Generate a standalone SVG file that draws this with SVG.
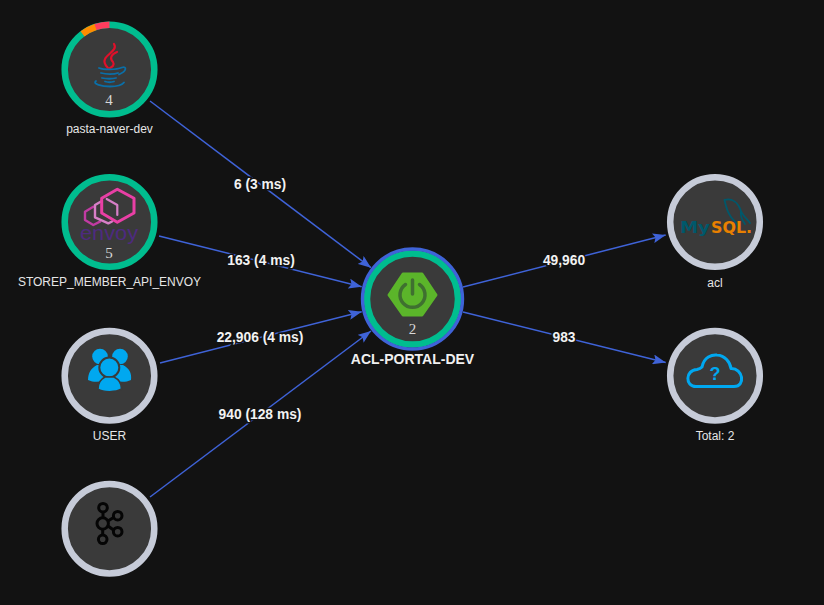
<svg xmlns="http://www.w3.org/2000/svg" width="824" height="605" viewBox="0 0 824 605">
<defs>
<style>
.t{font-family:"Liberation Sans",Arial,sans-serif;text-anchor:middle}
.name{font-size:12px;fill:#e6e6e6}
.el{font-size:13.800px;font-weight:bold;fill:#f2f2f2;stroke:#121212;stroke-width:3px;paint-order:stroke}
.num{font-family:"Liberation Serif",serif;font-size:15px;fill:#d8d8d8;text-anchor:middle}
.disc{fill:#3a3a3a}
.ring{fill:none;stroke-width:6.500}
.g{stroke:#00bd8f}
.s{stroke:#c6cbd8}
.e{fill:none;stroke:#3f63d8;stroke-width:1.500;marker-end:url(#a)}
.i{fill:none;stroke-linecap:round;stroke-linejoin:round}
</style>
<marker id="a" markerUnits="userSpaceOnUse" markerWidth="14" markerHeight="10" refX="13" refY="5" orient="auto">
<path d="M0 0L13 5L0 10L2.500 5Z" fill="#3f63d8"/>
</marker>
</defs>
<rect width="824" height="605" fill="#121212"/>
<g id="connectors">
<path class="e" d="M150 101L371 267.700"/>
<path class="e" d="M159 236L361.700 286.700"/>
<path class="e" d="M160 363L361.700 311.700"/>
<path class="e" d="M150 497L371 331"/>
<path class="e" d="M463 287L665.700 235"/>
<path class="e" d="M463 312L665.700 362.500"/>
</g>
<g id="edge-labels">
<text class="t el" x="260" y="189">6 (3 ms)</text>
<text class="t el" x="261" y="265">163 (4 ms)</text>
<text class="t el" x="260" y="342">22,906 (4 ms)</text>
<text class="t el" x="260" y="419">940 (128 ms)</text>
<text class="t el" x="564" y="265">49,960</text>
<text class="t el" x="564" y="342">983</text>
</g>
<g id="node-pasta">
<circle class="disc" cx="109.500" cy="69.500" r="44"/>
<circle class="ring g" cx="109.500" cy="69.500" r="44.800"/>
<path class="ring" stroke="#ff8c00" d="M82.500 33.800A44.800 44.800 0 0 1 96 26.800"/>
<path class="ring" stroke="#ff3d5e" d="M95.500 27A44.800 44.800 0 0 1 109.500 24.700"/>
<path class="i" stroke="#e0102a" stroke-width="2.200" d="M114 44C118 50 107 54 105 59C103 63 106 66 108 68M117 52C110 55 110 59 113 62C115 65 112 67 110 68"/>
<path class="i" stroke="#0a6fa8" stroke-width="1.800" d="M99 68C104 70 116 70 122 67.500C127 66 127 71 119 74.500M101 73C106 74.500 114 74.500 118 73M102 78C106 79 113 79 116 78M105 81.500C108 82.500 111 82.500 114 81.500M96 81C92 84 102 86.500 110 86.500C117 86.500 122 85 124 82.500"/>
<text class="num" x="109" y="105">4</text>
<text class="t name" x="109.500" y="133">pasta-naver-dev</text>
</g>
<g id="node-envoy">
<circle class="disc" cx="109.500" cy="222" r="44"/>
<circle class="ring g" cx="109.500" cy="222" r="44.800"/>
<path class="i" stroke="#c13ba3" stroke-width="2.400" d="M93.300 206.700L85 211.700L85 220L93.300 225L100 221.700"/>
<path class="i" stroke="#d77fc7" stroke-width="2.400" d="M101 201.500L95 205L95 217.300L108.300 223.300L112 221.500"/>
<path class="i" stroke="#e93fa5" stroke-width="3" d="M117.300 189.300L134 198.300L134 213L117.300 222.300L101.700 213L101.700 198.300Z"/>
<path class="i" stroke="#d77fc7" stroke-width="2.200" d="M106.700 199L117.300 205L117.300 215"/>
<text class="t" x="109" y="240" font-size="20" fill="#4e2a80" textLength="58" lengthAdjust="spacingAndGlyphs">envoy</text>
<text class="num" x="109" y="258">5</text>
<text class="t name" x="109.500" y="286">STOREP_MEMBER_API_ENVOY</text>
</g>
<g id="node-user">
<circle class="disc" cx="109.500" cy="375.700" r="44"/>
<circle class="ring s" cx="109.500" cy="375.700" r="44.800"/>
<g fill="#00a8f0">
<circle cx="100" cy="356.500" r="7.800"/>
<circle cx="120" cy="356.500" r="7.800"/>
<path d="M88 380C88 373 91 368 97 365L104 365L110 367L116 365L123 365C129 368 132 373 131 380C126 382.500 120 382 116 381L104 381C99 382 93 382.500 88 380Z"/>
</g>
<circle cx="109.300" cy="367.500" r="10" fill="#00a8f0" stroke="#3a3a3a" stroke-width="2"/>
<path d="M98 389C98 382 101 379 105 377L114 377C118 379 121.500 382 121.500 389C116 392.500 103 392.500 98 389Z" fill="#00a8f0" stroke="#3a3a3a" stroke-width="1.500"/>
<text class="t name" x="109.500" y="440">USER</text>
</g>
<g id="node-kafka">
<circle class="disc" cx="109.500" cy="528.700" r="44"/>
<circle class="ring s" cx="109.500" cy="528.700" r="44.800"/>
<g fill="none" stroke="#050505" stroke-width="3">
<circle cx="103" cy="507.700" r="4.300"/>
<circle cx="102.700" cy="523.500" r="5.700"/>
<circle cx="102.700" cy="539.300" r="4.300"/>
<circle cx="117.700" cy="515.700" r="4.300"/>
<circle cx="117.700" cy="531.700" r="4.300"/>
<path d="M103 512V518M102.700 529V535M108 521L113.500 517.500M108 526L113.500 530"/>
</g>
</g>
<g id="node-acl-portal">
<circle class="disc" cx="412.500" cy="299" r="44"/>
<circle class="ring g" cx="412.500" cy="299" r="45.500"/>
<circle cx="412.500" cy="299" r="50" fill="none" stroke="#3f63d8" stroke-width="3.400"/>
<path d="M403 274L422 274L436 295L422 315L403 315L389 295Z" fill="#5bb52a" stroke="#5bb52a" stroke-width="3" stroke-linejoin="round"/>
<path class="i" stroke="#3f7030" stroke-width="3.500" d="M405.500 284.500A12.500 12.500 0 1 0 419.500 284.500M412.500 280V294"/>
<text class="num" x="412.500" y="333.500">2</text>
<text class="t" x="412.500" y="364" font-size="14" font-weight="bold" fill="#f0f0f0">ACL-PORTAL-DEV</text>
</g>
<g id="node-acl">
<circle class="disc" cx="715" cy="222" r="44"/>
<circle class="ring s" cx="715" cy="222" r="44.800"/>
<path class="i" stroke="#00586b" stroke-width="1.800" d="M724.500 200C732 198 738 202 741 211C743 216 747 219 750 223M724.500 200C726 207 728 213 731 217C733 220 737 222 738 227M741 211C740 216 742 220 745 224"/>
<text x="680" y="233" font-family="'DejaVu Sans',sans-serif" font-size="15" font-weight="bold" fill="#00586b" textLength="30" lengthAdjust="spacingAndGlyphs">My</text>
<text x="711" y="233" font-family="'DejaVu Sans',sans-serif" font-size="15" font-weight="bold" fill="#e98000" textLength="41" lengthAdjust="spacingAndGlyphs">SQL.</text>
<text class="t name" x="715" y="287">acl</text>
</g>
<g id="node-cloud">
<circle class="disc" cx="715" cy="375.700" r="44"/>
<circle class="ring s" cx="715" cy="375.700" r="44.800"/>
<path class="i" stroke="#00a8f0" stroke-width="3" d="M696 386.500C685 386.500 685 370 697 369.500C699 369 701 368 702 367C704 357 712 354.500 717 355C725 355.500 730 362 731 368.500C743 368 746 386.500 734 386.500Z"/>
<text class="t" x="715" y="380" font-size="18" font-weight="bold" fill="#00a8f0">?</text>
<text class="t name" x="715" y="440">Total: 2</text>
</g>
</svg>
